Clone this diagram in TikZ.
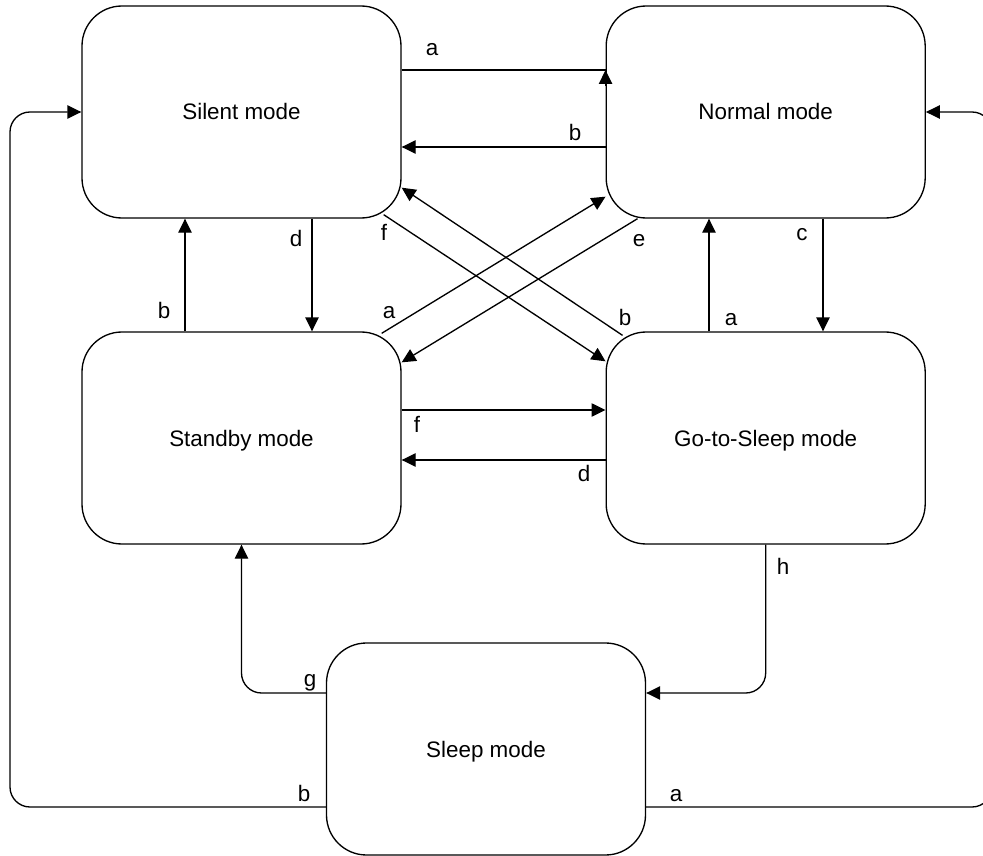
\documentclass[tikz,border=0pt]{standalone}
\usepackage{fontspec}
\setmainfont{Liberation Sans}
\usetikzlibrary{arrows.meta,calc}
\begin{document}
\begin{tikzpicture}[x=0.75pt,y=-0.75pt,
  every node/.style={font=\fontsize{16.8}{20}\selectfont},
  mode/.style={draw, line width=1pt, fill=white, rounded corners=30pt, minimum width=239.25pt, minimum height=159pt, inner sep=0pt, text height=12pt, text depth=0pt},
  conn/.style={draw, line width=1pt, -{Triangle[length=10.5pt,width=10pt]}},
  plain/.style={draw, line width=1pt},
  lbl/.style={anchor=base, inner sep=0pt}]
\useasboundingbox (0,0) rectangle (983,856);
\node[mode] (silent) at (241.5,112) {Silent mode};
\node[mode] (normal) at (765.7,112) {Normal mode};
\node[mode] (standby) at (241.5,438) {Standby mode};
\node[mode] (gts) at (765.7,438) {Go-to-Sleep mode};
\node[mode] (sleep) at (486,749) {Sleep mode};
\coordinate (ya) at (0,70);
\coordinate (yb1) at (0,147);
\coordinate (yarr) at (0,86);
\coordinate (xb) at (185,0);
\coordinate (xd) at (312,0);
\coordinate (xa) at (709,0);
\coordinate (xc) at (823,0);
\coordinate (yf) at (0,410);
\coordinate (yd) at (0,460);
\coordinate (yg) at (0,693);
\coordinate (ys) at (0,807);
\coordinate (xL) at (10,0);
\coordinate (xR) at (992,0);
% edges
\draw[plain] (silent.east |- ya) -- (normal.west |- ya);
\draw[conn] (normal.west |- yarr) -- (normal.west |- ya);
\draw[conn] (normal.west |- yb1) -- (silent.east |- yb1);
\draw[conn] (silent.south -| xd) -- (standby.north -| xd);
\draw[conn] (standby.north -| xb) -- (silent.south -| xb);
\draw[conn] (normal.south -| xc) -- (gts.north -| xc);
\draw[conn] (gts.north -| xa) -- (normal.south -| xa);
\draw[conn] (standby.east |- yf) -- (gts.west |- yf);
\draw[conn] (gts.west |- yd) -- (standby.east |- yd);
\draw[conn] ($(silent.south east)+(-18,-4)$) -- ($(gts.north west)+(0,30)$);
\draw[conn] ($(gts.north west)+(17,4)$) -- ($(silent.south east)+(0,-31)$);
\draw[conn] ($(standby.north east)+(-20,2)$) -- ($(normal.south west)+(0,-22)$);
\draw[conn] ($(normal.south west)+(32,0)$) -- ($(standby.north east)+(0,31)$);
\draw[conn, rounded corners=15pt] (sleep.west |- yg) -| (standby.south);
\draw[conn, rounded corners=15pt] (gts.south) |- (sleep.east |- yg);
\draw[conn, rounded corners=15pt] (sleep.west |- ys) -- (xL |- ys) -- (xL |- silent.west) -- (silent.west);
\draw[conn, rounded corners=15pt] (sleep.east |- ys) -- (xR |- ys) -- (xR |- normal.east) -- (normal.east);
% labels
\node[lbl] (l1) at (432,56) {a};
\node[lbl] (l2) at (575,141) {b};
\node[lbl] (l3) at (296,247) {d};
\node[lbl] (l4) at (384,240) {f};
\node[lbl] (l5) at (164,318) {b};
\node[lbl] (l6) at (389,318) {a};
\node[lbl] (l7) at (639,247) {e};
\node[lbl] (l8) at (802,240) {c};
\node[lbl] (l9) at (625,325) {b};
\node[lbl] (l10) at (731,325) {a};
\node[lbl] (l11) at (417,432) {f};
\node[lbl] (l12) at (584,481) {d};
\node[lbl] (l13) at (783,574) {h};
\node[lbl] (l14) at (310,686) {g};
\node[lbl] (l15) at (304,801) {b};
\node[lbl] (l16) at (676,801) {a};
\end{tikzpicture}
\end{document}
